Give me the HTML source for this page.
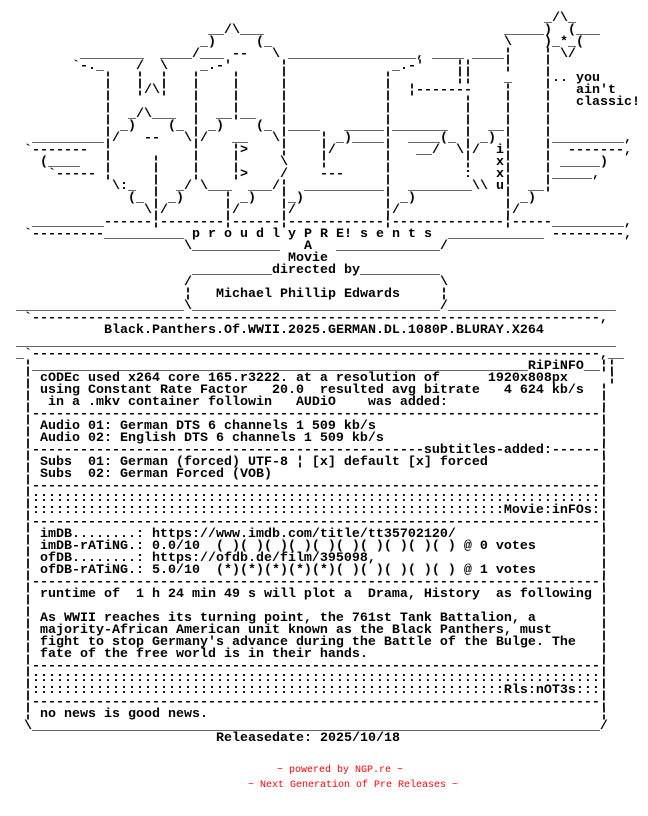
<!DOCTYPE html>
<html><head><meta charset="utf-8"><style>
html,body{margin:0;padding:0;background:#fff;}
body{width:648px;height:816px;position:relative;overflow:hidden;font-family:"Liberation Mono","DejaVu Sans Mono",monospace;font-size:13.333px;font-weight:bold;color:#000;}
.r{position:absolute;left:0;width:648px;height:12px;line-height:12px;margin-top:2px;}
.r b{position:absolute;top:0;white-space:pre;font-weight:bold;}
.red{position:absolute;white-space:pre;font-size:10px;font-weight:normal;color:#f00;line-height:12px;}
</style></head><body>
<div class="r" style="top:11px"><b style="left:544px">_/\_</b></div>
<div class="r" style="top:23px"><b style="left:208px">__/\___</b><b style="left:504px">_____)</b><b style="left:568px">(___</b></div>
<div class="r" style="top:35px"><b style="left:200px">_)</b><b style="left:256px">(_</b><b style="left:504px">\</b><b style="left:544px">)_*_(</b></div>
<div class="r" style="top:47px"><b style="left:80px">________</b><b style="left:160px">____/___</b><b style="left:232px">--</b><b style="left:272px">\</b><b style="left:288px">________________,</b><b style="left:432px">____</b><b style="left:472px">____¦</b><b style="left:544px">¦</b><b style="left:560px">\/</b></div>
<div class="r" style="top:59px"><b style="left:72px">`-._</b><b style="left:136px">/</b><b style="left:160px">\</b><b style="left:200px">_.-'</b><b style="left:280px">¦</b><b style="left:392px">_.-'</b><b style="left:456px">¦¦</b><b style="left:504px">¦</b><b style="left:544px">¦</b></div>
<div class="r" style="top:71px"><b style="left:104px">¦</b><b style="left:136px">¦</b><b style="left:160px">¦</b><b style="left:192px">¦</b><b style="left:232px">¦</b><b style="left:280px">¦</b><b style="left:384px">¦</b><b style="left:456px">¦¦</b><b style="left:504px">_</b><b style="left:544px">¦.. you</b></div>
<div class="r" style="top:83px"><b style="left:104px">¦</b><b style="left:136px">¦/\¦</b><b style="left:192px">¦</b><b style="left:232px">¦</b><b style="left:280px">¦</b><b style="left:384px">¦</b><b style="left:408px">¦-------</b><b style="left:504px">¦</b><b style="left:544px">¦</b><b style="left:576px">ain't</b></div>
<div class="r" style="top:95px"><b style="left:104px">¦</b><b style="left:192px">¦</b><b style="left:232px">¦</b><b style="left:280px">¦</b><b style="left:384px">¦</b><b style="left:464px">¦</b><b style="left:504px">¦</b><b style="left:544px">¦</b><b style="left:576px">classic!</b></div>
<div class="r" style="top:107px"><b style="left:104px">¦</b><b style="left:128px">_/\___</b><b style="left:192px">¦</b><b style="left:216px">__¦__</b><b style="left:280px">¦</b><b style="left:384px">¦</b><b style="left:464px">¦</b><b style="left:504px">¦</b><b style="left:544px">¦</b></div>
<div class="r" style="top:119px"><b style="left:104px">¦</b><b style="left:120px">_)</b><b style="left:168px">(_</b><b style="left:192px">¦</b><b style="left:208px">_)</b><b style="left:256px">(_</b><b style="left:280px">¦</b><b style="left:288px">____</b><b style="left:344px">_____¦_______</b><b style="left:464px">¦</b><b style="left:488px">__¦</b><b style="left:544px">¦</b></div>
<div class="r" style="top:131px"><b style="left:32px">_________</b><b style="left:104px">¦/</b><b style="left:144px">--</b><b style="left:184px">\¦/</b><b style="left:232px">__</b><b style="left:272px">\¦</b><b style="left:320px">¦</b><b style="left:336px">_)____¦</b><b style="left:408px">____(_</b><b style="left:464px">¦</b><b style="left:480px">_)</b><b style="left:504px">¦</b><b style="left:544px">¦_________,</b></div>
<div class="r" style="top:143px"><b style="left:24px">`-------</b><b style="left:104px">¦</b><b style="left:192px">¦</b><b style="left:232px">¦&gt;</b><b style="left:280px">¦</b><b style="left:320px">¦/</b><b style="left:384px">¦</b><b style="left:416px">__/</b><b style="left:456px">\¦/</b><b style="left:496px">i¦</b><b style="left:544px">¦</b><b style="left:568px">-------,</b></div>
<div class="r" style="top:155px"><b style="left:40px">(____</b><b style="left:104px">¦</b><b style="left:152px">¦</b><b style="left:192px">¦</b><b style="left:232px">¦</b><b style="left:280px">\</b><b style="left:320px">¦</b><b style="left:384px">¦</b><b style="left:464px">¦</b><b style="left:496px">x¦</b><b style="left:544px">¦</b><b style="left:560px">_____)</b></div>
<div class="r" style="top:167px"><b style="left:48px">`-----</b><b style="left:104px">¦</b><b style="left:152px">¦</b><b style="left:192px">¦</b><b style="left:232px">¦&gt;</b><b style="left:280px">/</b><b style="left:320px">---</b><b style="left:384px">¦</b><b style="left:464px">:</b><b style="left:496px">x¦</b><b style="left:544px">¦_____,</b></div>
<div class="r" style="top:179px"><b style="left:112px">\:_</b><b style="left:152px">¦</b><b style="left:176px">_/</b><b style="left:200px">\___</b><b style="left:248px">___/</b><b style="left:280px">¦</b><b style="left:304px">__________¦</b><b style="left:408px">________\\</b><b style="left:496px">u¦</b><b style="left:528px">__¦</b></div>
<div class="r" style="top:191px"><b style="left:128px">(_</b><b style="left:152px">¦</b><b style="left:168px">_)</b><b style="left:224px">¦</b><b style="left:240px">_)</b><b style="left:280px">¦_)</b><b style="left:384px">¦</b><b style="left:400px">_)</b><b style="left:504px">¦</b><b style="left:520px">_)</b></div>
<div class="r" style="top:203px"><b style="left:144px">\¦/</b><b style="left:224px">¦/</b><b style="left:280px">¦/</b><b style="left:384px">¦/</b><b style="left:504px">¦/</b></div>
<div class="r" style="top:215px"><b style="left:32px">_________------¦--------¦------¦------------¦--------------¦-----_________,</b></div>
<div class="r" style="top:227px"><b style="left:24px">`---------__________</b><b style="left:192px">p r o u d l y P R E! s e n t s</b><b style="left:448px">____________</b><b style="left:552px">---------,</b></div>
<div class="r" style="top:239px"><b style="left:184px">\___________</b><b style="left:304px">A</b><b style="left:336px">_____________/</b></div>
<div class="r" style="top:251px"><b style="left:288px">Movie</b></div>
<div class="r" style="top:263px"><b style="left:192px">__________directed by__________</b></div>
<div class="r" style="top:275px"><b style="left:184px">/</b><b style="left:440px">\</b></div>
<div class="r" style="top:287px"><b style="left:184px">¦   Michael Phillip Edwards</b><b style="left:440px">¦</b></div>
<div class="r" style="top:299px"><b style="left:16px">_____________________\_______________________________/_____________________</b></div>
<div class="r" style="top:311px"><b style="left:24px">`-----------------------------------------------------------------------,</b></div>
<div class="r" style="top:323px"><b style="left:104px">Black.Panthers.Of.WWII.2025.GERMAN.DL.1080P.BLURAY.X264</b></div>
<div class="r" style="top:335px"><b style="left:16px">___________________________________________________________________________</b></div>
<div class="r" style="top:347px"><b style="left:16px">_`-----------------------------------------------------------------------,__</b></div>
<div class="r" style="top:359px"><b style="left:24px">¦______________________________________________________________RiPiNFO__¦¦</b></div>
<div class="r" style="top:371px"><b style="left:24px">¦ cODEc used x264 core 165.r3222. at a resolution of      1920x808px</b><b style="left:608px">¦</b></div>
<div class="r" style="top:383px"><b style="left:24px">¦ using Constant Rate Factor   20.0  resulted avg bitrate   4 624 kb/s</b><b style="left:600px">¦</b></div>
<div class="r" style="top:395px"><b style="left:24px">¦  in a .mkv container followin   AUDiO    was added:</b><b style="left:600px">¦</b></div>
<div class="r" style="top:407px"><b style="left:24px">¦-----------------------------------------------------------------------¦</b></div>
<div class="r" style="top:419px"><b style="left:24px">¦ Audio 01: German DTS 6 channels 1 509 kb/s</b><b style="left:600px">¦</b></div>
<div class="r" style="top:431px"><b style="left:24px">¦ Audio 02: English DTS 6 channels 1 509 kb/s</b><b style="left:600px">¦</b></div>
<div class="r" style="top:443px"><b style="left:24px">¦-------------------------------------------------subtitles-added:------¦</b></div>
<div class="r" style="top:455px"><b style="left:24px">¦ Subs  01: German (forced) UTF-8 ¦ [x] default [x] forced</b><b style="left:600px">¦</b></div>
<div class="r" style="top:467px"><b style="left:24px">¦ Subs  02: German Forced (VOB)</b><b style="left:600px">¦</b></div>
<div class="r" style="top:479px"><b style="left:24px">¦-----------------------------------------------------------------------¦</b></div>
<div class="r" style="top:491px"><b style="left:24px">¦:::::::::::::::::::::::::::::::::::::::::::::::::::::::::::::::::::::::¦</b></div>
<div class="r" style="top:503px"><b style="left:24px">¦:::::::::::::::::::::::::::::::::::::::::::::::::::::::::::Movie:inFOs:¦</b></div>
<div class="r" style="top:515px"><b style="left:24px">¦-----------------------------------------------------------------------¦</b></div>
<div class="r" style="top:527px"><b style="left:24px">¦ imDB........: https://www.imdb.com/title/tt35702120/</b><b style="left:600px">¦</b></div>
<div class="r" style="top:539px"><b style="left:24px">¦ imDB-rATiNG.: 0.0/10  ( )( )( )( )( )( )( )( )( )( ) @ 0 votes</b><b style="left:600px">¦</b></div>
<div class="r" style="top:551px"><b style="left:24px">¦ ofDB........: https://ofdb.de/film/395098,</b><b style="left:600px">¦</b></div>
<div class="r" style="top:563px"><b style="left:24px">¦ ofDB-rATiNG.: 5.0/10  (*)(*)(*)(*)(*)( )( )( )( )( ) @ 1 votes</b><b style="left:600px">¦</b></div>
<div class="r" style="top:575px"><b style="left:24px">¦-----------------------------------------------------------------------¦</b></div>
<div class="r" style="top:587px"><b style="left:24px">¦ runtime of  1 h 24 min 49 s will plot a  Drama, History  as following</b><b style="left:600px">¦</b></div>
<div class="r" style="top:599px"><b style="left:24px">¦</b><b style="left:600px">¦</b></div>
<div class="r" style="top:611px"><b style="left:24px">¦ As WWII reaches its turning point, the 761st Tank Battalion, a</b><b style="left:600px">¦</b></div>
<div class="r" style="top:623px"><b style="left:24px">¦ majority-African American unit known as the Black Panthers, must</b><b style="left:600px">¦</b></div>
<div class="r" style="top:635px"><b style="left:24px">¦ fight to stop Germany's advance during the Battle of the Bulge. The</b><b style="left:600px">¦</b></div>
<div class="r" style="top:647px"><b style="left:24px">¦ fate of the free world is in their hands.</b><b style="left:600px">¦</b></div>
<div class="r" style="top:659px"><b style="left:24px">¦-----------------------------------------------------------------------¦</b></div>
<div class="r" style="top:671px"><b style="left:24px">¦:::::::::::::::::::::::::::::::::::::::::::::::::::::::::::::::::::::::¦</b></div>
<div class="r" style="top:683px"><b style="left:24px">¦:::::::::::::::::::::::::::::::::::::::::::::::::::::::::::Rls:nOT3s:::¦</b></div>
<div class="r" style="top:695px"><b style="left:24px">¦-----------------------------------------------------------------------¦</b></div>
<div class="r" style="top:707px"><b style="left:24px">¦ no news is good news.</b><b style="left:600px">¦</b></div>
<div class="r" style="top:719px"><b style="left:24px">\_______________________________________________________________________/</b></div>
<div class="r" style="top:731px"><b style="left:216px">Releasedate: 2025/10/18</b></div>
<div class="red" style="left:277px;top:765px">~ powered by NGP.re ~</div>
<div class="red" style="left:248px;top:780px">~ Next Generation of Pre Releases ~</div>
</body></html>
